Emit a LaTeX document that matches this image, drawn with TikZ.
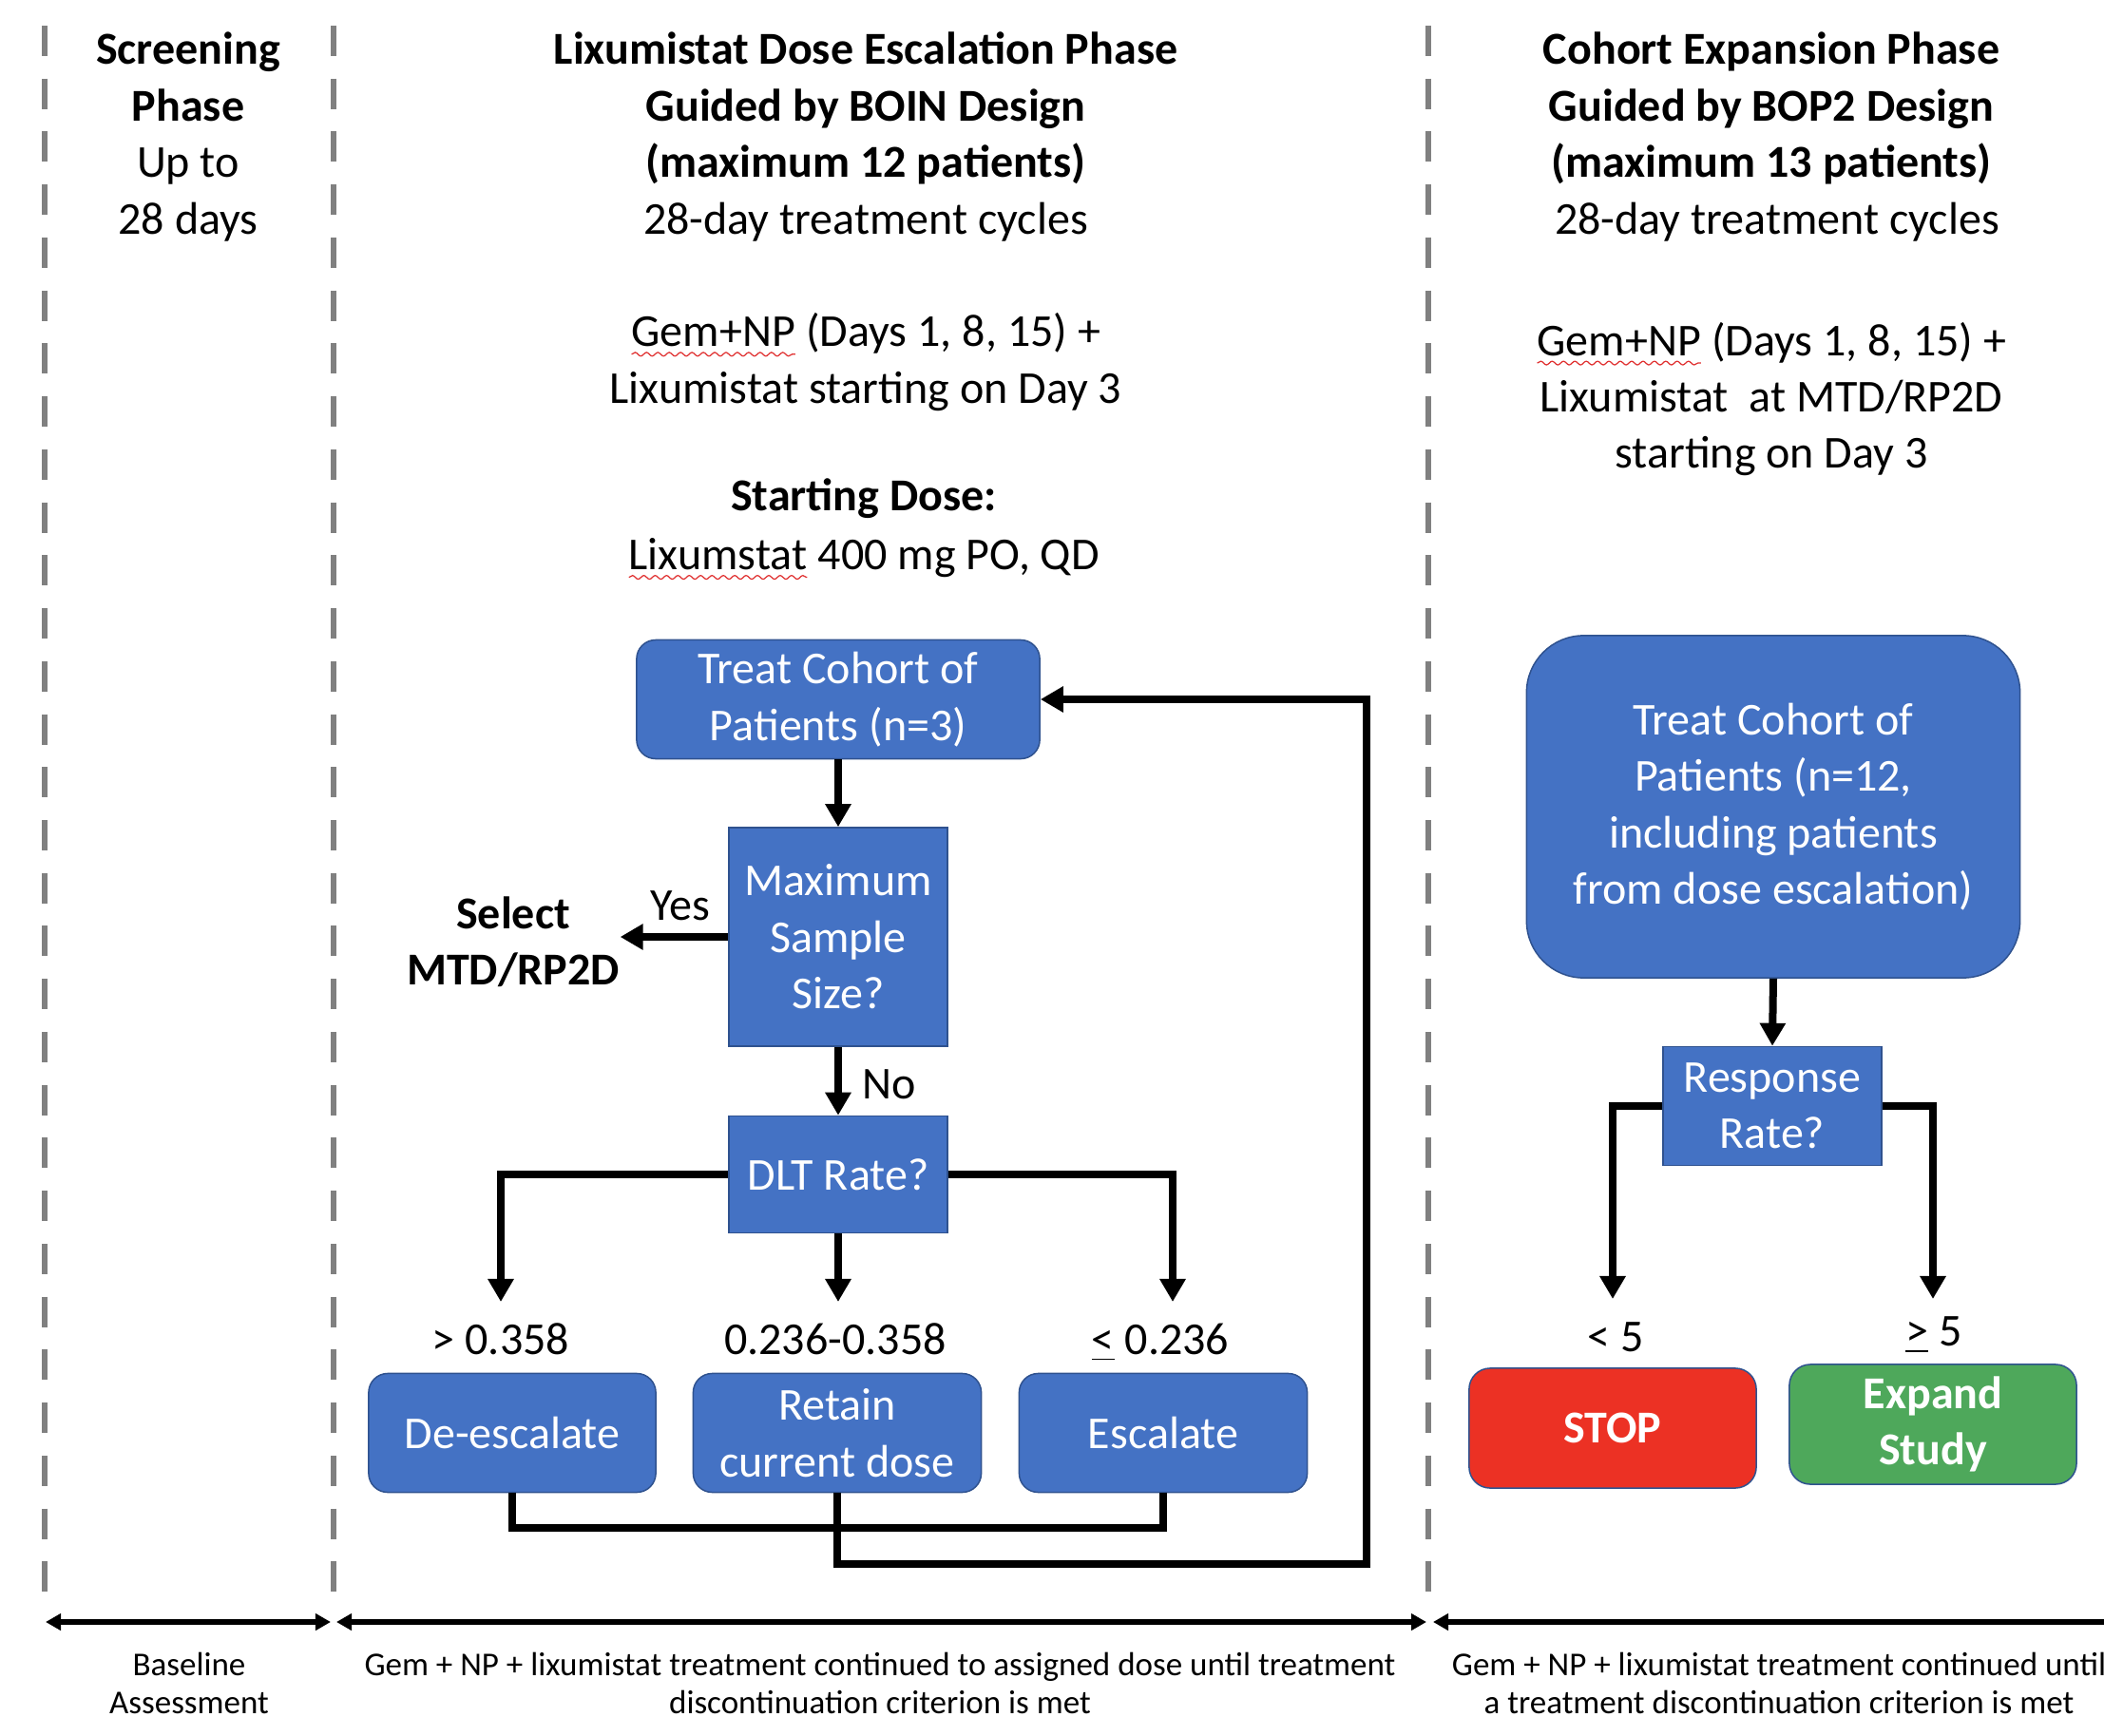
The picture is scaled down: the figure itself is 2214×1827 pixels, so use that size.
\documentclass[tikz,border=0pt]{standalone}
\usepackage{fontspec}
\setmainfont{Carlito}
\usetikzlibrary{arrows.meta,decorations.pathmorphing,calc}

\definecolor{boxblue}{HTML}{4472C4}
\definecolor{boxedge}{HTML}{2F528F}
\definecolor{stopred}{HTML}{EC3124}
\definecolor{gogreen}{HTML}{4EA85B}
\definecolor{phasegray}{HTML}{808080}
\definecolor{spellred}{HTML}{E03030}

\newcommand\fmain{\fontsize{13.66}{16.9}\selectfont}
\newcommand\fsmall{\fontsize{9.96}{11.4}\selectfont}
\newcommand\squig[1]{\tikz[baseline=(sq.base)]{\node[inner sep=0pt,outer sep=0pt](sq){#1};\draw[spellred,line width=0.35pt,decorate,decoration={snake,amplitude=0.55pt,segment length=3.4pt}] ([yshift=-2.3pt]sq.base west) -- ([yshift=-2.3pt]sq.base east);}}

\tikzset{
  box/.style={draw=boxedge, line width=0.015cm, fill=boxblue, text=white, align=center, font=\fmain, inner sep=0pt},
  rbox/.style={box, rounded corners=0.2cm},
  conn/.style={line width=0.08cm},
  arr/.style={conn, -{Triangle[length=0.24cm,width=0.26cm]}},
  phase/.style={draw=phasegray, line width=0.065cm, dash pattern=on 0.32cm off 0.237cm},
  spantip/.tip={Triangle[length=0.16cm,width=0.17cm]},
  span/.style={line width=0.055cm},
  txt/.style={font=\fmain, align=center, inner sep=0pt},
  small/.style={font=\fsmall, align=center, inner sep=0pt},
}

\begin{document}
\begin{tikzpicture}[x=0.01cm, y=-0.01cm]
\useasboundingbox (0,0) rectangle (2214,1827);
\clip (0,0) rectangle (2214,1827);
\fill[white] (0,0) rectangle (2214,1827);

% phase separators
\draw[phase] (47,27) -- (47,1692);
\draw[phase] (351,27) -- (351,1692);
\draw[phase] (1503,27) -- (1503,1692);

% headers
\node[txt] (hscr) at (198,144) {\textbf{Screening}\\\textbf{Phase}\\Up to\\28 days};
\node[txt] (hesc) at (911,144) {\textbf{Lixumistat Dose Escalation Phase}\\\textbf{Guided by BOIN Design}\\\textbf{(maximum 12 patients)}\\28-day treatment cycles};
\node[txt] (hexp) at (1864,144) {\textbf{Cohort Expansion Phase}\\\textbf{Guided by BOP2 Design}\\\textbf{(maximum 13 patients)}\\\hspace*{0.25em}28-day treatment cycles};

\node[txt] (gem1) at (911,381) {\squig{Gem+NP} (Days 1, 8, 15) +\\Lixumistat starting on Day 3};
\node[txt, font=\fontsize{13.66}{17.6}\selectfont] (dose) at (909,557) {\textbf{Starting Dose:}\\\squig{Lixumstat} 400 mg PO, QD};
\node[txt] (gem2) at (1864,420) {\squig{Gem+NP} (Days 1, 8, 15) +\\Lixumistat\ \ at MTD/RP2D\\starting on Day 3};

% dose escalation flow
\node[rbox, minimum width=4.24cm, minimum height=1.25cm] (treat) at (882,736) {Treat Cohort of\\Patients (n=3)};
\node[box, minimum width=2.30cm, minimum height=2.30cm] (max) at (882,986) {Maximum\\Sample\\Size?};
\node[box, minimum width=2.30cm, minimum height=1.23cm] (dlt) at (882,1236) {DLT Rate?};
\node[txt, font=\fmain\bfseries] (sel) at (540,991) {Select\\MTD/RP2D};
\node[txt] (yes) at (716,953) {Yes};
\node[txt] (no) at (936,1141) {No};

\draw[arr] (treat.south) -- (max.north);
\draw[arr] (max.west) -- (sel.east |- max.west);
\draw[arr] (max.south) -- (dlt.north);

\coordinate (dL) at (527,1370);
\coordinate (dM) at (882,1370);
\coordinate (dR) at (1234,1370);
\draw[arr] (dlt.west) -| (dL);
\draw[arr] (dlt.south) -- (dM);
\draw[arr] (dlt.east) -| (dR);

\node[txt] (l1) at (527,1409) {> 0.358};
\node[txt] (l2) at (879,1409) {0.236-0.358};
\node[txt] (l3) at (1221,1413) {\underline{<} 0.236};

\node[rbox, minimum width=3.02cm, minimum height=1.25cm] (desc) at (539,1508) {De-escalate};
\node[rbox, minimum width=3.03cm, minimum height=1.25cm] (ret) at (881,1508) {Retain\\current dose};
\node[rbox, minimum width=3.03cm, minimum height=1.25cm] (esc) at (1224,1508) {Escalate};

\draw[conn] (desc.south) -- ++(0,37) -| (esc.south);
\draw[arr] (ret.south) -- ++(0,75) -| ([xshift=3.43cm]treat.east) -- (treat.east);

% cohort expansion flow
\node[rbox, rounded corners=0.6cm, minimum width=5.19cm, minimum height=3.6cm] (big) at (1866,849) {Treat Cohort of\\Patients (n=12,\\including patients\\from dose escalation)};
\node[box, minimum width=2.30cm, minimum height=1.25cm] (resp) at (1865,1164) {Response\\Rate?};
\draw[arr] (big.south) -- (resp.north);
\coordinate (rL) at (1697,1367);
\coordinate (rR) at (2034,1367);
\draw[arr] (resp.west) -| (rL);
\draw[arr] (resp.east) -| (rR);

\node[txt] (lt5) at (1700,1407) {< 5};
\node[txt] (ge5) at (2035,1405) {\underline{>} 5};

\node[rbox, fill=stopred, rounded corners=0.22cm, minimum width=3.02cm, minimum height=1.26cm, font=\fmain\bfseries] (stop) at (1697,1503) {STOP};
\node[rbox, fill=gogreen, rounded corners=0.22cm, minimum width=3.02cm, minimum height=1.26cm, font=\fmain\bfseries] (expand) at (2034,1499) {Expand\\Study};

% timeline spans
\coordinate (s0) at (48,1707);
\coordinate (s1) at (348,1707);
\coordinate (s2) at (354,1707);
\coordinate (s3) at (1501,1707);
\coordinate (s4) at (1508,1707);
\coordinate (s5) at (2260,1707);
\draw[span, {spantip}-{spantip}] (s0) -- (s1);
\draw[span, {spantip}-{spantip}] (s2) -- (s3);
\draw[span, {spantip}-] (s4) -- (s5);

\node[small] (b1) at (199,1771) {Baseline\\Assessment};
\node[small] (b2) at (926,1771) {Gem + NP + lixumistat treatment continued to assigned dose until treatment\\discontinuation criterion is met};
\node[small] (b3) at (1872,1771) {Gem + NP + lixumistat treatment continued until\\a treatment discontinuation criterion is met};
\end{tikzpicture}
\end{document}
